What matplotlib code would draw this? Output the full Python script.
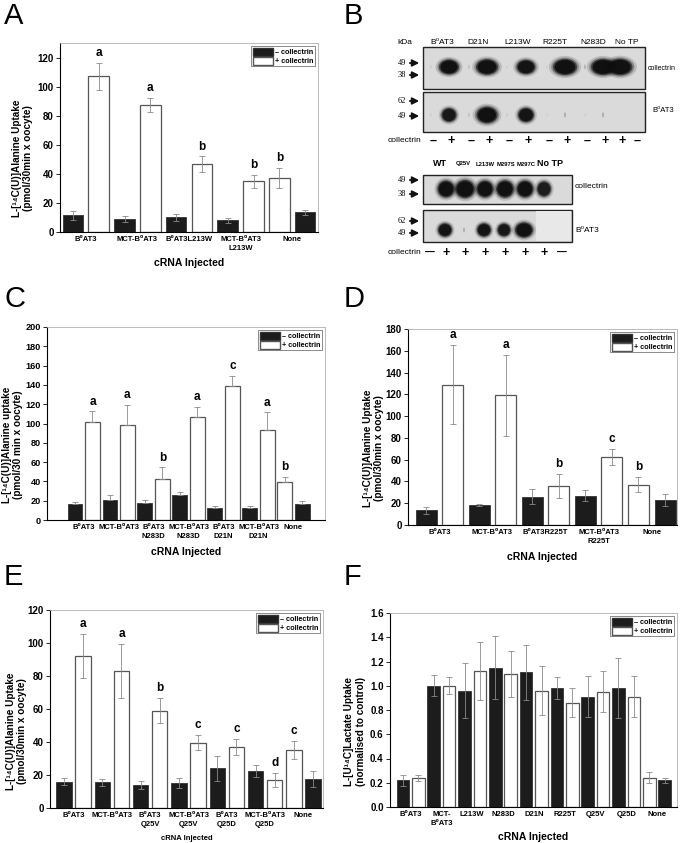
import matplotlib
matplotlib.use("Agg")
import matplotlib.pyplot as plt
from matplotlib.patches import Patch, Rectangle, Ellipse

plt.rcParams["font.family"] = ["Liberation Sans", "DejaVu Sans"]
plt.rcParams["font.weight"] = "bold"

B0 = "B\u2070AT3"
C14 = "\u00b9\u2074"

# --- panel A ---
a_labels = [B0, "MCT-" + B0, B0 + "L213W", "MCT-" + B0 + "\nL213W", "None"]
a_black = [11.5, 9, 10, 8, 13.5]
a_black_err = [3, 2, 2.5, 1.5, 1.5]
a_white = [107, 87.5, 46.5, 35, 37]
a_white_err = [9.5, 5, 5.5, 4.5, 7]
a_letters = ["a", "a", "b", "b", "b"]

# --- panel C ---
c_labels = [B0, "MCT-" + B0, B0 + "\nN283D", "MCT-" + B0 + "\nN283D",
            B0 + "\nD21N", "MCT-" + B0 + "\nD21N", "None"]
c_black = [16.5, 21, 17.5, 25.5, 12, 12, 16.5]
c_black_err = [2.5, 4.5, 3, 4, 2, 2, 3.5]
c_white = [102, 98, 43, 107, 139, 93, 39.5]
c_white_err = [10.5, 21, 11.5, 10.5, 10, 18.5, 5.5]
c_letters = ["a", "a", "b", "a", "c", "a", "b"]

# --- panel D ---
d_labels = [B0, "MCT-" + B0, B0 + "R225T", "MCT-" + B0 + "\nR225T", "None"]
d_black = [13.5, 18, 26, 27, 23]
d_black_err = [3, 1, 7, 5, 5.5]
d_white = [129, 119, 35.5, 62.5, 37]
d_white_err = [36, 37, 11, 7, 7]
d_letters = ["a", "a", "b", "c", "b"]

# --- panel E ---
e_labels = [B0, "MCT-" + B0, B0 + "\nQ25V", "MCT-" + B0 + "\nQ25V",
            B0 + "\nQ25D", "MCT-" + B0 + "\nQ25D", "None"]
e_black = [16, 15.5, 14, 15, 24, 22.5, 17.5]
e_black_err = [2, 2, 2.5, 3, 7.5, 3.5, 5]
e_white = [92, 83, 59, 39.5, 37, 17, 35]
e_white_err = [13.5, 16.5, 7.5, 4.5, 5, 4, 5.5]
e_letters = ["a", "a", "b", "c", "c", "d", "c"]

# --- panel F ---
f_labels = [B0, "MCT-\n" + B0, "L213W", "N283D", "D21N", "R225T", "Q25V", "Q25D", "None"]
f_black = [0.22, 1.0, 0.96, 1.15, 1.11, 0.98, 0.91, 0.98, 0.22]
f_black_err = [0.045, 0.085, 0.23, 0.26, 0.23, 0.09, 0.17, 0.25, 0.02]
f_white = [0.24, 1.0, 1.12, 1.10, 0.96, 0.86, 0.95, 0.91, 0.24]
f_white_err = [0.025, 0.07, 0.24, 0.19, 0.2, 0.12, 0.17, 0.17, 0.045]

# --- panel B (western blots) ---
top_lanes = ["-", "+", "-", "+", "-", "+", "-", "+", "-", "+", "+", "-"]
top_lane_x = [433, 451, 471, 489, 509, 528, 549, 567, 587, 605, 622, 637]
top_collectrin = [0.05, 1.0, 0.08, 1.1, 0.05, 0.95, 0.05, 1.2, 0.1, 1.2, 1.25, 0.0]
top_b0at3 = [0.05, 0.9, 0.08, 1.25, 0.06, 0.95, 0.05, 0.12, 0.05, 0.12, 0.03, 0.02]
top_headers = ["kDa", B0, "D21N", "L213W", "R225T", "N283D", "No TP"]
top_header_x = [405, 442, 478, 518, 555, 593, 627]

low_lanes = ["-", "+", "+", "+", "+", "+", "+", "-"]
low_lane_x = [430, 446, 465, 485, 505, 525, 544, 562]
low_collectrin = [0.0, 1.0, 1.15, 1.0, 1.05, 1.0, 0.85, 0.0]
low_b0at3 = [0.0, 0.95, 0.12, 0.95, 0.9, 1.2, 0.03, 0.03]
low_headers = ["WT", "Q25V", "L213W", "M297S", "M297C", "No TP"]
low_header_x = [440, 463, 485, 506, 526, 550]

BLACK_BAR = "#1c1c1c"
ERR_COLOR = "#8a8a8a"


def bar_panel(ax, labels, blk, blk_err, wht, wht_err, letters, ylim, yticks,
              ylabel, xlim, width, ylab_x, xlab_y, up_only=False, fmt="{:d}",
              xlabel_size=7.5, ytick_size=7):
    n = len(labels)
    for i in range(n):
        if i == n - 1:
            xb, xw = 2 * i + 1, 2 * i
        else:
            xb, xw = 2 * i, 2 * i + 1
        ax.bar(xb, blk[i], width, color=BLACK_BAR, edgecolor="#333333", lw=0.6, zorder=2)
        ax.bar(xw, wht[i], width, color="white", edgecolor="#555555", lw=0.9, zorder=2)
        for x, v, e in ((xb, blk[i], blk_err[i]), (xw, wht[i], wht_err[i])):
            yerr = [[0], [e]] if up_only else [[e], [e]]
            ax.errorbar(x, v, yerr=yerr, fmt="none", ecolor=ERR_COLOR,
                        elinewidth=0.6, capsize=2, capthick=0.6, zorder=3)
        if letters:
            ax.text(xw, wht[i] + wht_err[i] + ylim[1] * 0.02, letters[i],
                    ha="center", va="bottom", fontsize=8.5, fontweight="bold")
    ax.set_xlim(*xlim)
    ax.set_ylim(*ylim)
    ax.set_yticks(yticks)
    ax.set_yticklabels([fmt.format(t) for t in yticks], fontsize=ytick_size,
                       fontweight="bold")
    ax.set_xticks([2 * i + 0.5 for i in range(n)])
    ax.set_xticklabels(labels, fontsize=5.5, fontweight="bold", linespacing=1.4)
    ax.tick_params(axis="x", length=0, pad=3)
    ax.tick_params(axis="y", length=3, width=0.6, pad=1.5)
    ax.set_ylabel(ylabel, fontsize=7.2, fontweight="bold", linespacing=1.15)
    ax.yaxis.set_label_coords(ylab_x, 0.39)
    ax.set_xlabel("cRNA Injected", fontsize=xlabel_size, fontweight="bold")
    ax.xaxis.set_label_coords(0.5, xlab_y)
    for s in ("top", "right"):
        ax.spines[s].set_color("#b0b0b0")
        ax.spines[s].set_linewidth(0.6)
    for s in ("left", "bottom"):
        ax.spines[s].set_color("black")
        ax.spines[s].set_linewidth(0.8)
    handles = [Patch(facecolor=BLACK_BAR, edgecolor="#333333"),
               Patch(facecolor="white", edgecolor="#555555")]
    leg = ax.legend(handles, ["\u2013 collectrin", "+ collectrin"], loc="upper right",
                    prop=dict(weight="bold", size=5.2),
                    handlelength=2.8, handleheight=1.3, handletextpad=0.25,
                    borderpad=0.2, labelspacing=0.08, fancybox=False, framealpha=1,
                    borderaxespad=0.45)
    leg.get_frame().set_edgecolor("#777777")
    leg.get_frame().set_linewidth(0.6)


def px_axes(fig, x0, y0, x1, y1):
    W, H = 683, 843
    return fig.add_axes([x0 / W, 1 - y1 / H, (x1 - x0) / W, (y1 - y0) / H])


def band(ax, x, y, w, h, k):
    if k <= 0:
        return
    for s, a in ((1.35, 0.15), (1.15, 0.3), (1.0, 0.6), (0.85, 0.9)):
        ax.add_patch(Ellipse((x, y), w * s * min(k, 1.3), h * s * min(k, 1.3) ** 0.5,
                             color="#0d0d0d", alpha=a * min(k, 1), lw=0, zorder=3))


def blot_box(ax, x0, y0, x1, y1):
    ax.add_patch(Rectangle((x0, y0), x1 - x0, y1 - y0, facecolor="#dadada",
                           edgecolor="#222222", lw=1.0, zorder=2))


def marker(ax, y, label, x_end):
    ax.text(x_end - 16, y, label, ha="right", va="center", fontsize=6,
            family="Liberation Serif", fontweight="normal")
    ax.annotate("", xy=(x_end, y), xytext=(x_end - 15, y),
                arrowprops=dict(arrowstyle="-|>,head_length=0.4,head_width=0.2",
                                color="#111111", lw=1.3))


def blot_text(ax, x, y, s, ha="center", size=6.0, weight="normal"):
    ax.text(x, y, s, ha=ha, va="center", fontsize=size, fontweight=weight)


fig = plt.figure(figsize=(6.83, 8.43), dpi=100)

ax_a = px_axes(fig, 60, 43, 318, 232)
bar_panel(ax_a, a_labels, a_black, a_black_err, a_white, a_white_err, a_letters,
          (0, 130), list(range(0, 121, 20)),
          f"L-[{C14}C(U)]Alanine Uptake\n(pmol/30min x oocyte)", (-0.5, 9.5), 0.8,
          -0.105, -0.138)

ax_c = px_axes(fig, 47, 327, 325, 520)
bar_panel(ax_c, c_labels, c_black, c_black_err, c_white, c_white_err, c_letters,
          (0, 200), list(range(0, 201, 20)),
          f"L-[{C14}C(U)]Alanine uptake\n(pmol/30 min x oocyte)", (-1.6, 14.3), 0.85,
          -0.085, -0.14, up_only=True, ytick_size=6.6)

ax_d = px_axes(fig, 408, 329, 677, 525)
bar_panel(ax_d, d_labels, d_black, d_black_err, d_white, d_white_err, d_letters,
          (0, 180), list(range(0, 181, 20)),
          f"L-[{C14}C(U)]Alanine Uptake\n(pmol/30min x oocyte)", (-0.68, 9.45), 0.79,
          -0.09, -0.138)

ax_e = px_axes(fig, 50, 610, 323, 808)
bar_panel(ax_e, e_labels, e_black, e_black_err, e_white, e_white_err, e_letters,
          (0, 120), list(range(0, 121, 20)),
          f"L-[{C14}C(U)]Alanine Uptake\n(pmol/30min x oocyte)", (-0.73, 13.52), 0.8,
          -0.085, -0.135, xlabel_size=5.5)

ax_f = px_axes(fig, 390, 613, 677, 807)
f_ticks = [round(0.2 * i, 1) for i in range(9)]
bar_panel(ax_f, f_labels, f_black, f_black_err, f_white, f_white_err, None,
          (0, 1.6), f_ticks,
          f"L-[U{C14}C]Lactate Uptake\n(normalised to control)", (-0.84, 17.8), 0.82,
          -0.085, -0.129, fmt="{:.1f}")

# panel B drawn in pixel coordinates
ax_b = px_axes(fig, 340, 0, 683, 280)
ax_b.set_xlim(340, 683)
ax_b.set_ylim(280, 0)
ax_b.axis("off")

blot_box(ax_b, 423, 47, 645, 89)
blot_box(ax_b, 423, 92, 645, 132)
for x, kc, kb in zip(top_lane_x, top_collectrin, top_b0at3):
    band(ax_b, x - 2, 67, 20, 15, kc)
    band(ax_b, x - 2, 115, 17, 15, kb)
for x, lab in zip(top_header_x, top_headers):
    blot_text(ax_b, x, 43, lab)
marker(ax_b, 63, "49", 422)
marker(ax_b, 75, "38", 422)
marker(ax_b, 101, "62", 422)
marker(ax_b, 116, "49", 422)
blot_text(ax_b, 648, 69, "collectrin", ha="left", size=5.0)
blot_text(ax_b, 652, 111, B0, ha="left", size=5.5)
blot_text(ax_b, 405, 141, "collectrin")
for x, s in zip(top_lane_x, top_lanes):
    ax_b.text(x, 141, "+" if s == "+" else "\u2013", ha="center", va="center",
              fontsize=9, fontweight="bold")

blot_box(ax_b, 423, 175, 572, 204)
blot_box(ax_b, 423, 210, 572, 242)
ax_b.add_patch(Rectangle((536, 211), 35, 30, facecolor="#e8e8e8", lw=0, zorder=2.5))
for x, kc, kb in zip(low_lane_x, low_collectrin, low_b0at3):
    band(ax_b, x, 189, 17, 17, kc)
    band(ax_b, x - 1, 230, 15, 14, kb)
for x, lab in zip(low_header_x, low_headers):
    fs = 6.5 if lab in ("WT", "No TP") else 4.2
    blot_text(ax_b, x, 164, lab, size=fs, weight="bold")
marker(ax_b, 180, "49", 422)
marker(ax_b, 194, "38", 422)
marker(ax_b, 221, "62", 422)
marker(ax_b, 233, "49", 422)
blot_text(ax_b, 575, 187, "collectrin", ha="left")
blot_text(ax_b, 575, 230, B0, ha="left")
blot_text(ax_b, 405, 253, "collectrin")
for x, s in zip(low_lane_x, low_lanes):
    ax_b.text(x, 253, "+" if s == "+" else "\u2014", ha="center", va="center",
              fontsize=9 if s == "+" else 7, fontweight="bold")

# panel letters
for lab, x, y in (("A", 4, 2), ("B", 344, 2), ("C", 4, 285), ("D", 344, 285),
                  ("E", 4, 563), ("F", 344, 563)):
    fig.text(x / 683, 1 - y / 843, lab, ha="left", va="top", fontsize=21,
             fontweight="normal")

fig.savefig("out.png", dpi=100)
